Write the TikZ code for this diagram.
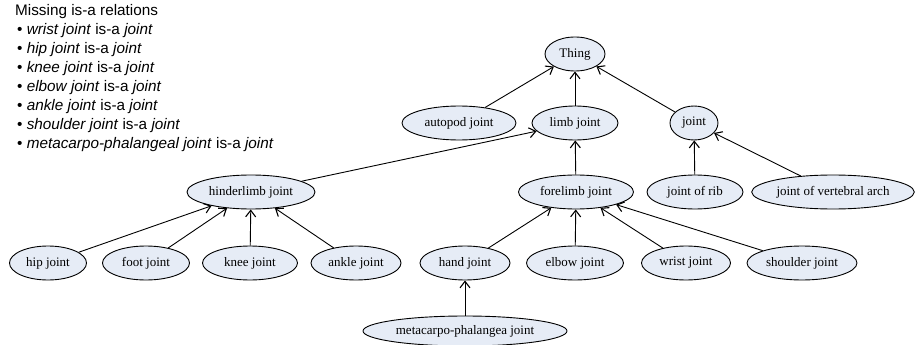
\documentclass[tikz,border=0pt]{standalone}
\usepackage{fontspec}
\setmainfont{Liberation Serif}
\newfontfamily\listfont{Liberation Sans}
\usetikzlibrary{arrows.meta,shapes.geometric}
\definecolor{cls}{HTML}{E6ECF6}

\begin{document}
\begin{tikzpicture}[
  x=1pt,y=-1pt,
  cl/.style={ellipse,draw=black,line width=0.9pt,fill=cls,minimum height=34pt,inner sep=1pt,font=\fontsize{13}{15}\selectfont},
  isa/.style={-{Straight Barb[length=6.5pt,width=10pt,line width=1.1pt]},line width=0.9pt,draw=black}
]
\useasboundingbox (0,0) rectangle (922,345);
% missing relations
\node[anchor=north west,align=left,inner sep=0pt,font=\listfont\fontsize{15.3}{19}\selectfont] (miss) at (15,4)
  {Missing is-a relations\\
   \hspace{2pt}\textbullet\ \textit{wrist joint} is-a \textit{joint}\\
   \hspace{2pt}\textbullet\ \textit{hip joint} is-a \textit{joint}\\
   \hspace{2pt}\textbullet\ \textit{knee joint} is-a \textit{joint}\\
   \hspace{2pt}\textbullet\ \textit{elbow joint} is-a \textit{joint}\\
   \hspace{2pt}\textbullet\ \textit{ankle joint} is-a \textit{joint}\\
   \hspace{2pt}\textbullet\ \textit{shoulder joint} is-a \textit{joint}\\
   \hspace{2pt}\textbullet\ \textit{metacarpo-phalangeal joint} is-a \textit{joint}};
% classes
\node[cl,minimum width=60pt] (thing) at (575,54) {Thing};
\node[cl,minimum width=114pt] (autopod) at (459,123) {autopod joint};
\node[cl,minimum width=86pt] (limb) at (575,123) {limb joint};
\node[cl,minimum width=48pt] (joint) at (694,123) {joint};
\node[cl,minimum width=128pt] (hinder) at (251,192) {hinderlimb joint};
\node[cl,minimum width=115pt] (fore) at (576,192) {forelimb joint};
\node[cl,minimum width=96pt] (rib) at (695,192) {joint of rib};
\node[cl,minimum width=146pt] (vert) at (833,192) {joint of vertebral arch};
\node[cl,minimum width=77pt] (hip) at (48,263) {hip joint};
\node[cl,minimum width=87pt] (foot) at (146,263) {foot joint};
\node[cl,minimum width=95pt] (knee) at (250,263) {knee joint};
\node[cl,minimum width=90pt] (ankle) at (356,263) {ankle joint};
\node[cl,minimum width=90pt] (hand) at (465,263) {hand joint};
\node[cl,minimum width=97pt] (elbow) at (575,263) {elbow joint};
\node[cl,minimum width=89pt] (wrist) at (686,263) {wrist joint};
\node[cl,minimum width=110pt] (shoulder) at (802,263) {shoulder joint};
\node[cl,minimum width=204pt,minimum height=30pt] (meta) at (465,331) {metacarpo-phalangea joint};
% is-a edges
\foreach \a/\b in {autopod/thing,limb/thing,joint/thing,hinder/limb,fore/limb,rib/joint,vert/joint,
  hip/hinder,foot/hinder,knee/hinder,ankle/hinder,hand/fore,elbow/fore,wrist/fore,shoulder/fore,meta/hand}
  \draw[isa] (\a)--(\b);
\end{tikzpicture}
\end{document}
